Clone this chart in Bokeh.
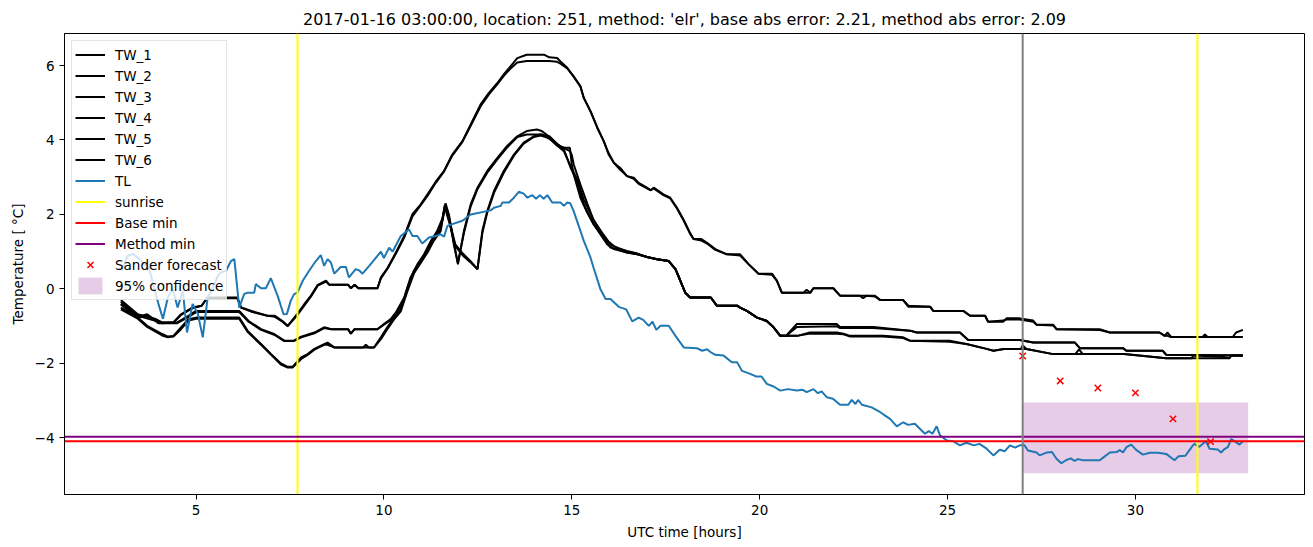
from bokeh.plotting import figure
from bokeh.models import Span, Legend, LegendItem, FixedTicker, Range1d
from bokeh.embed import file_html
from bokeh.resources import INLINE

# ---------------- data ----------------
hours_a = [3.00, 3.45, 3.90, 4.10, 4.40, 4.60, 4.90, 5.15, 5.30, 6.10,
           6.20, 6.50, 6.90, 7.10, 7.30, 7.44, 7.70, 7.88, 8.06, 8.24,
           8.46, 8.55, 9.05, 9.12, 9.22, 9.32, 9.83, 9.92, 10.10, 10.32,
           10.54, 10.76, 10.98, 11.16, 11.38, 11.60, 11.82, 12.09, 12.31, 12.57,
           12.79, 13.02, 13.19, 13.37, 13.55, 13.80, 14.26, 14.40, 14.61, 14.70,
           14.88, 15.05, 15.23, 15.32, 15.50, 15.68, 15.85, 15.98, 16.12, 16.29,
           16.47, 16.65, 16.78, 17.00, 17.10, 17.18, 17.44, 17.62, 17.80, 17.98,
           18.15, 18.24, 18.45, 18.60, 18.82, 19.13, 19.48, 19.71, 19.97, 20.33,
           20.46, 20.59, 21.17, 21.25, 21.35, 21.43, 21.96, 22.14, 22.67, 22.75,
           22.85, 23.07, 23.21, 23.82, 23.96, 24.54, 24.62, 25.42, 25.60, 26.00,
           26.08, 26.48, 26.57, 26.92, 27.28, 27.37, 27.81, 27.90, 29.05, 29.32,
           30.64, 30.78, 30.85, 30.95, 31.79, 31.85, 31.92, 32.59, 32.68, 32.86]
tw_1 = [-0.30, -0.68, -0.80, -0.90, -0.90, -0.68, -0.50, -0.45, -0.23, -0.23,
        -0.50, -0.60, -0.72, -0.72, -0.86, -0.99, -0.66, -0.41, -0.18, 0.11,
        0.22, 0.11, 0.11, 0.02, 0.11, 0.02, 0.02, 0.31, 0.57, 0.98,
        1.42, 2.01, 2.27, 2.54, 2.88, 3.17, 3.61, 3.97, 4.42, 4.95,
        5.26, 5.53, 5.76, 5.98, 6.20, 6.29, 6.29, 6.22, 6.20, 6.11,
        5.94, 5.71, 5.45, 5.13, 4.77, 4.33, 3.97, 3.61, 3.39, 3.25,
        3.03, 2.99, 2.85, 2.72, 2.65, 2.72, 2.54, 2.45, 2.18, 1.85,
        1.50, 1.34, 1.34, 1.24, 1.07, 0.93, 0.93, 0.66, 0.41, 0.41,
        0.22, -0.10, -0.10, -0.02, -0.10, 0.02, 0.02, -0.18, -0.18, -0.25,
        -0.18, -0.18, -0.30, -0.30, -0.48, -0.48, -0.59, -0.59, -0.72, -0.72,
        -0.88, -0.88, -0.79, -0.79, -0.85, -0.96, -0.96, -1.08, -1.08, -1.17,
        -1.17, -1.26, -1.17, -1.29, -1.29, -1.22, -1.29, -1.29, -1.17, -1.10]
tw_2 = [-0.35, -0.72, -0.85, -0.92, -0.90, -0.70, -0.52, -0.45, -0.25, -0.25,
        -0.50, -0.62, -0.72, -0.75, -0.88, -1.00, -0.70, -0.45, -0.20, 0.09,
        0.20, 0.11, 0.11, 0.02, 0.11, 0.02, 0.02, 0.28, 0.55, 0.95,
        1.38, 1.95, 2.25, 2.50, 2.85, 3.15, 3.58, 3.95, 4.38, 4.90,
        5.22, 5.50, 5.72, 5.92, 6.08, 6.12, 6.12, 6.12, 6.10, 6.05,
        5.92, 5.70, 5.43, 5.13, 4.77, 4.33, 3.97, 3.65, 3.39, 3.20,
        3.03, 2.96, 2.82, 2.70, 2.65, 2.70, 2.52, 2.43, 2.16, 1.83,
        1.48, 1.34, 1.30, 1.22, 1.05, 0.93, 0.90, 0.66, 0.41, 0.38,
        0.22, -0.10, -0.10, -0.10, -0.10, 0.02, 0.02, -0.18, -0.18, -0.18,
        -0.18, -0.20, -0.30, -0.30, -0.45, -0.48, -0.59, -0.59, -0.72, -0.72,
        -0.88, -0.85, -0.82, -0.82, -0.88, -0.96, -0.98, -1.08, -1.10, -1.17,
        -1.17, -1.26, -1.26, -1.29, -1.29, -1.29, -1.29, -1.29, -1.29, -1.29]

hours_b = [3.00, 3.45, 3.70, 4.00, 4.50, 4.80, 5.00, 6.15, 6.40, 6.73,
           7.08, 7.35, 7.60, 7.80, 8.15, 8.41, 8.60, 9.05, 9.12, 9.22,
           9.83, 10.00, 10.18, 10.32, 10.54, 10.71, 10.89, 11.07, 11.25, 11.42,
           11.56, 11.64, 11.73, 11.87, 11.97, 12.13, 12.31, 12.49, 12.75, 13.02,
           13.28, 13.55, 13.80, 14.07, 14.20, 14.45, 14.61, 14.79, 14.95, 15.00,
           15.05, 15.23, 15.41, 15.58, 15.76, 15.94, 16.12, 16.47, 16.74, 17.00,
           17.27, 17.58, 17.76, 17.89, 18.02, 18.15, 18.70, 18.86, 19.40, 19.48,
           19.66, 19.93, 20.19, 20.37, 20.55, 20.70, 20.99, 22.05, 22.14, 23.03,
           24.00, 24.18, 25.33, 25.55, 26.92, 27.28, 28.39, 28.52, 29.67, 29.76,
           30.73, 30.82, 32.86]
tw_3 = [-0.40, -0.75, -0.68, -0.90, -0.90, -0.72, -0.59, -0.59, -0.86, -1.08,
        -1.21, -1.39, -1.39, -1.28, -1.17, -1.03, -1.08, -1.08, -1.20, -1.08,
        -1.08, -0.94, -0.81, -0.63, -0.23, 0.31, 0.66, 0.93, 1.29, 1.56,
        1.90, 2.30, 2.00, 1.20, 0.66, 1.56, 2.27, 2.72, 3.17, 3.52,
        3.84, 4.10, 4.24, 4.28, 4.24, 4.05, 3.88, 3.79, 3.79, 3.35,
        3.08, 2.45, 2.05, 1.74, 1.47, 1.20, 1.07, 0.98, 0.93, 0.86,
        0.80, 0.75, 0.53, 0.22, -0.10, -0.23, -0.23, -0.45, -0.45, -0.50,
        -0.59, -0.77, -0.86, -1.03, -1.26, -1.26, -0.94, -0.94, -1.02, -1.02,
        -1.12, -1.17, -1.17, -1.37, -1.37, -1.44, -1.44, -1.59, -1.59, -1.66,
        -1.66, -1.77, -1.79]
tw_4 = [-0.42, -0.78, -0.70, -0.92, -0.92, -0.75, -0.62, -0.62, -0.88, -1.10,
        -1.23, -1.40, -1.40, -1.30, -1.19, -1.05, -1.08, -1.08, -1.20, -1.08,
        -1.08, -0.96, -0.84, -0.66, -0.28, 0.25, 0.60, 0.90, 1.25, 1.52,
        1.85, 2.25, 1.95, 1.15, 0.70, 1.50, 2.22, 2.68, 3.12, 3.48,
        3.80, 4.08, 4.15, 4.15, 4.15, 4.00, 3.85, 3.79, 3.70, 3.60,
        3.35, 2.80, 2.30, 1.85, 1.55, 1.30, 1.15, 1.00, 0.95, 0.86,
        0.80, 0.75, 0.53, 0.22, -0.10, -0.23, -0.23, -0.45, -0.45, -0.50,
        -0.59, -0.77, -0.86, -1.03, -1.26, -1.26, -1.02, -1.00, -1.05, -1.05,
        -1.12, -1.17, -1.17, -1.37, -1.37, -1.44, -1.44, -1.59, -1.59, -1.66,
        -1.66, -1.77, -1.79]

hours_c = [3.00, 3.45, 3.70, 4.10, 4.25, 4.40, 4.60, 4.80, 5.00, 6.15,
           6.37, 6.73, 7.00, 7.26, 7.44, 7.57, 7.80, 7.97, 8.15, 8.41,
           8.50, 8.68, 9.45, 9.52, 9.60, 9.74, 9.92, 10.09, 10.27, 10.45,
           10.63, 10.80, 10.98, 11.16, 11.33, 11.51, 11.62, 11.75, 11.90, 12.10,
           12.30, 12.49, 12.62, 12.75, 12.93, 13.19, 13.46, 13.72, 13.99, 14.17,
           14.40, 14.61, 14.79, 14.97, 15.14, 15.32, 15.58, 15.85, 16.03, 16.20,
           16.47, 16.74, 17.00, 17.27, 17.58, 17.76, 17.89, 18.02, 18.15, 18.70,
           18.86, 19.40, 19.48, 19.66, 19.93, 20.19, 20.37, 20.55, 21.00, 21.34,
           22.05, 22.23, 22.41, 23.29, 23.82, 24.00, 25.06, 25.50, 26.04, 26.22,
           26.50, 26.95, 27.00, 27.10, 27.81, 28.40, 28.50, 28.60, 29.70, 30.82,
           31.50, 31.53, 32.30, 32.50, 32.55, 32.86]
tw_5 = [-0.50, -0.77, -0.99, -1.21, -1.28, -1.26, -1.03, -0.81, -0.77, -0.77,
        -1.12, -1.48, -1.75, -2.00, -2.09, -2.09, -1.84, -1.75, -1.61, -1.48,
        -1.44, -1.57, -1.57, -1.50, -1.57, -1.57, -1.30, -1.03, -0.77, -0.54,
        0.04, 0.49, 0.75, 1.02, 1.34, 1.60, 2.25, 1.80, 1.20, 0.95,
        0.75, 0.53, 1.56, 2.09, 2.63, 3.17, 3.61, 3.93, 4.10, 4.15,
        4.10, 3.90, 3.75, 3.25, 2.90, 2.27, 1.74, 1.38, 1.11, 1.07,
        0.98, 0.93, 0.86, 0.80, 0.75, 0.53, 0.22, -0.10, -0.23, -0.23,
        -0.45, -0.45, -0.50, -0.59, -0.77, -0.86, -1.03, -1.26, -1.26, -1.17,
        -1.17, -1.20, -1.26, -1.26, -1.30, -1.39, -1.39, -1.48, -1.61, -1.66,
        -1.61, -1.61, -1.52, -1.61, -1.75, -1.75, -1.62, -1.75, -1.75, -1.86,
        -1.86, -1.79, -1.82, -1.86, -1.79, -1.79]
tw_6 = [-0.55, -0.80, -1.02, -1.25, -1.30, -1.28, -1.08, -0.85, -0.80, -0.80,
        -1.15, -1.50, -1.77, -2.03, -2.11, -2.11, -1.88, -1.77, -1.63, -1.50,
        -1.50, -1.57, -1.57, -1.57, -1.57, -1.57, -1.35, -1.08, -0.82, -0.60,
        -0.05, 0.42, 0.70, 0.98, 1.30, 1.55, 2.20, 1.75, 1.15, 0.90,
        0.72, 0.53, 1.50, 2.05, 2.58, 3.12, 3.58, 3.90, 4.08, 4.12,
        4.05, 3.85, 3.70, 3.30, 2.95, 2.40, 1.85, 1.45, 1.20, 1.10,
        1.02, 0.95, 0.86, 0.80, 0.75, 0.53, 0.22, -0.10, -0.23, -0.23,
        -0.45, -0.45, -0.50, -0.59, -0.77, -0.86, -1.03, -1.26, -1.26, -1.20,
        -1.20, -1.22, -1.28, -1.28, -1.32, -1.39, -1.42, -1.48, -1.61, -1.66,
        -1.61, -1.61, -1.61, -1.61, -1.75, -1.75, -1.75, -1.75, -1.75, -1.86,
        -1.86, -1.86, -1.86, -1.86, -1.79, -1.79]

tl_hours = [3.01, 3.18, 3.32, 3.50, 3.62, 3.75, 3.88, 4.00, 4.12, 4.25,
            4.38, 4.51, 4.65, 4.76, 4.91, 5.05, 5.18, 5.31, 5.44, 5.58,
            5.66, 5.80, 5.93, 6.02, 6.15, 6.28, 6.37, 6.55, 6.59, 6.73,
            6.86, 6.99, 7.17, 7.33, 7.42, 7.52, 7.61, 7.70, 7.84, 8.01,
            8.19, 8.32, 8.41, 8.50, 8.59, 8.68, 8.85, 8.99, 9.07, 9.25,
            9.34, 9.43, 9.61, 9.92, 10.00, 10.14, 10.23, 10.45, 10.67, 10.76,
            10.89, 11.02, 11.20, 11.38, 11.51, 11.60, 11.69, 11.82, 12.09, 12.31,
            12.84, 12.93, 13.11, 13.15, 13.33, 13.46, 13.59, 13.72, 13.82, 13.95,
            14.05, 14.15, 14.25, 14.35, 14.48, 14.70, 14.79, 14.88, 14.96, 15.05,
            15.23, 15.32, 15.50, 15.58, 15.72, 15.76, 15.90, 16.03, 16.25, 16.45,
            16.61, 16.78, 16.90, 17.05, 17.15, 17.25, 17.36, 17.58, 17.76, 17.98,
            18.33, 18.47, 18.60, 18.70, 18.82, 19.04, 19.26, 19.40, 19.53, 19.75,
            19.90, 20.05, 20.19, 20.37, 20.55, 20.75, 20.99, 21.15, 21.25, 21.43,
            21.55, 21.65, 21.79, 21.95, 22.14, 22.36, 22.45, 22.55, 22.62, 22.72,
            22.98, 23.21, 23.34, 23.47, 23.65, 23.82, 23.95, 24.13, 24.27, 24.40,
            24.50, 24.60, 24.71, 24.80, 24.98, 25.15, 25.33, 25.50, 25.70, 25.85,
            26.04, 26.22, 26.39, 26.52, 26.66, 26.80, 26.92, 27.05, 27.14, 27.37,
            27.45, 27.65, 27.78, 27.90, 28.03, 28.15, 28.28, 28.38, 28.47, 28.61,
            29.05, 29.14, 29.32, 29.50, 29.58, 29.67, 29.76, 29.89, 30.02, 30.20,
            30.38, 30.60, 30.82, 31.04, 31.15, 31.33, 31.53, 31.57, 31.70, 31.88,
            31.97, 32.19, 32.28, 32.37, 32.46, 32.55, 32.68, 32.77, 32.86]
tl_temp = [0.49, 0.89, 0.94, 0.80, 0.67, 0.57, 0.03, -0.40, -0.80, -0.23,
           0.00, -0.50, -0.05, -1.17, -0.40, -0.67, -1.30, -0.23, 0.00, 0.35,
           0.44, 0.49, 0.75, 0.80, -0.50, -0.14, -0.10, -0.10, 0.13, 0.02,
           0.02, 0.29, -0.18, -0.68, -0.67, -0.32, -0.14, -0.10, 0.22, 0.49,
           0.75, 0.91, 0.62, 0.80, 0.71, 0.41, 0.59, 0.59, 0.31, 0.53,
           0.50, 0.41, 0.62, 1.00, 0.83, 1.11, 1.00, 1.42, 1.60, 1.42,
           1.42, 1.22, 1.38, 1.42, 1.47, 1.40, 1.69, 1.74, 1.83, 2.00,
           2.11, 2.18, 2.23, 2.32, 2.32, 2.45, 2.61, 2.56, 2.45, 2.52,
           2.42, 2.52, 2.42, 2.52, 2.32, 2.32, 2.23, 2.32, 2.30, 2.09,
           1.56, 1.29, 0.84, 0.57, 0.13, 0.00, -0.27, -0.27, -0.48, -0.55,
           -0.87, -0.77, -0.83, -0.99, -0.88, -1.10, -0.99, -0.99, -1.26, -1.57,
           -1.59, -1.66, -1.62, -1.70, -1.77, -1.79, -1.97, -1.97, -2.20, -2.28,
           -2.35, -2.35, -2.55, -2.62, -2.73, -2.69, -2.73, -2.71, -2.77, -2.69,
           -2.80, -2.75, -2.91, -2.95, -3.11, -3.11, -2.98, -3.09, -2.98, -3.11,
           -3.18, -3.31, -3.40, -3.49, -3.69, -3.58, -3.65, -3.62, -3.76, -3.89,
           -3.82, -3.89, -3.69, -3.93, -4.07, -4.09, -4.20, -4.13, -4.20, -4.16,
           -4.29, -4.47, -4.32, -4.36, -4.20, -4.26, -4.20, -4.20, -4.34, -4.39,
           -4.47, -4.39, -4.38, -4.56, -4.68, -4.60, -4.55, -4.62, -4.57, -4.60,
           -4.60, -4.53, -4.39, -4.38, -4.33, -4.39, -4.25, -4.18, -4.32, -4.45,
           -4.40, -4.40, -4.43, -4.60, -4.49, -4.48, -4.20, -4.16, -4.24, -4.09,
           -4.29, -4.31, -4.39, -4.30, -4.25, -4.03, -4.12, -4.18, -4.09]

sunrise_hours = [7.70, 31.65]
forecast_start = 27.0
base_min = [-4.09]
method_min = [-3.97]
sander_hours = [27, 28, 29, 30, 31, 32]
sander_temp = [-1.80, -2.47, -2.66, -2.79, -3.49, -4.10]
conf_hours = [27, 33]
conf_low = [-4.95, -4.95]
conf_high = [-3.05, -3.05]

x_ticks = [5, 10, 15, 20, 25, 30]
y_ticks = [-4, -2, 0, 2, 4, 6]

title_text = ("2017-01-16 03:00:00, location: 251, method: 'elr', "
              "base abs error: 2.21, method abs error: 2.09")

# ---------------- figure ----------------
FONT = "DejaVu Sans"
X_LO, X_HI = 1.5, 34.5
Y_LO, Y_HI = -5.52, 6.86
p = figure(width=1313, height=547, output_backend="svg", toolbar_location=None,
           x_range=Range1d(X_LO, X_HI), y_range=Range1d(Y_LO, Y_HI))
p.min_border_left = 64
p.min_border_right = 9
p.min_border_top = 33
p.min_border_bottom = 53
p.background_fill_color = "white"
p.border_fill_color = "white"
p.outline_line_color = "black"
p.outline_line_width = 1
p.xgrid.visible = False
p.ygrid.visible = False

p.title.text = title_text
p.title.align = "center"
p.title.text_font = FONT
p.title.text_font_size = "16px"
p.title.text_font_style = "normal"
p.title.text_color = "black"

for ax, ticks in ((p.xaxis, x_ticks), (p.yaxis, y_ticks)):
    ax.ticker = FixedTicker(ticks=ticks)
    ax.major_label_overrides = {t: str(t).replace("-", "\u2212") for t in ticks}
    ax.major_label_text_font = FONT
    ax.major_label_text_font_size = "13.5px"
    ax.major_label_text_color = "black"
    ax.axis_label_text_font = FONT
    ax.axis_label_text_font_size = "13.5px"
    ax.axis_label_text_font_style = "normal"
    ax.axis_label_text_color = "black"
    ax.minor_tick_line_color = None
    ax.major_tick_in = 0
    ax.major_tick_out = 5
    ax.major_tick_line_color = "black"
    ax.axis_line_color = "black"
    ax.major_label_standoff = 5
    ax.axis_label_standoff = 6
p.xaxis.axis_label = "UTC time [hours]"
p.yaxis.axis_label = "Temperature [ \u00b0C]"

# confidence band (drawn first, under the lines as in matplotlib)
r_conf = p.varea(x=conf_hours, y1=conf_low, y2=conf_high,
                 fill_color="purple", fill_alpha=0.2)

items = []
tw_data = [("TW_1", hours_a, tw_1), ("TW_2", hours_a, tw_2),
           ("TW_3", hours_b, tw_3), ("TW_4", hours_b, tw_4),
           ("TW_5", hours_c, tw_5), ("TW_6", hours_c, tw_6)]
for name, xs, ys in tw_data:
    r = p.line(xs, ys, line_color="black", line_width=2)
    items.append(LegendItem(label=name, renderers=[r]))

r_tl = p.line(tl_hours, tl_temp, line_color="#1f77b4", line_width=2)
items.append(LegendItem(label="TL", renderers=[r_tl]))

n_sun = len(sunrise_hours)
r_sun = p.segment(x0=sunrise_hours, y0=[Y_LO] * n_sun, x1=sunrise_hours, y1=[Y_HI] * n_sun,
                  line_color="yellow", line_width=2)
items.append(LegendItem(label="sunrise", renderers=[r_sun]))

r_base = p.segment(x0=[X_LO], y0=base_min, x1=[X_HI], y1=base_min,
                   line_color="red", line_width=2)
items.append(LegendItem(label="Base min", renderers=[r_base]))

r_meth = p.segment(x0=[X_LO], y0=method_min, x1=[X_HI], y1=method_min,
                   line_color="purple", line_width=2)
items.append(LegendItem(label="Method min", renderers=[r_meth]))

p.add_layout(Span(location=forecast_start, dimension="height", line_color="gray", line_width=2))

r_sander = p.scatter(sander_hours, sander_temp, marker="x", size=9,
                     line_color="red", line_width=1.5)
items.append(LegendItem(label="Sander forecast", renderers=[r_sander]))
items.append(LegendItem(label="95% confidence", renderers=[r_conf]))

legend = Legend(items=items, location="top_left")
legend.margin = 7
legend.padding = 3
legend.spacing = 0
legend.label_height = 21
legend.glyph_height = 21
legend.glyph_width = 30
legend.label_standoff = 10
legend.label_text_font = FONT
legend.label_text_font_size = "13.5px"
legend.label_text_color = "black"
legend.border_line_color = "#cccccc"
legend.border_line_width = 1
legend.background_fill_color = "white"
legend.background_fill_alpha = 0.8
p.add_layout(legend)

open("out.html", "w").write(file_html(p, INLINE))
